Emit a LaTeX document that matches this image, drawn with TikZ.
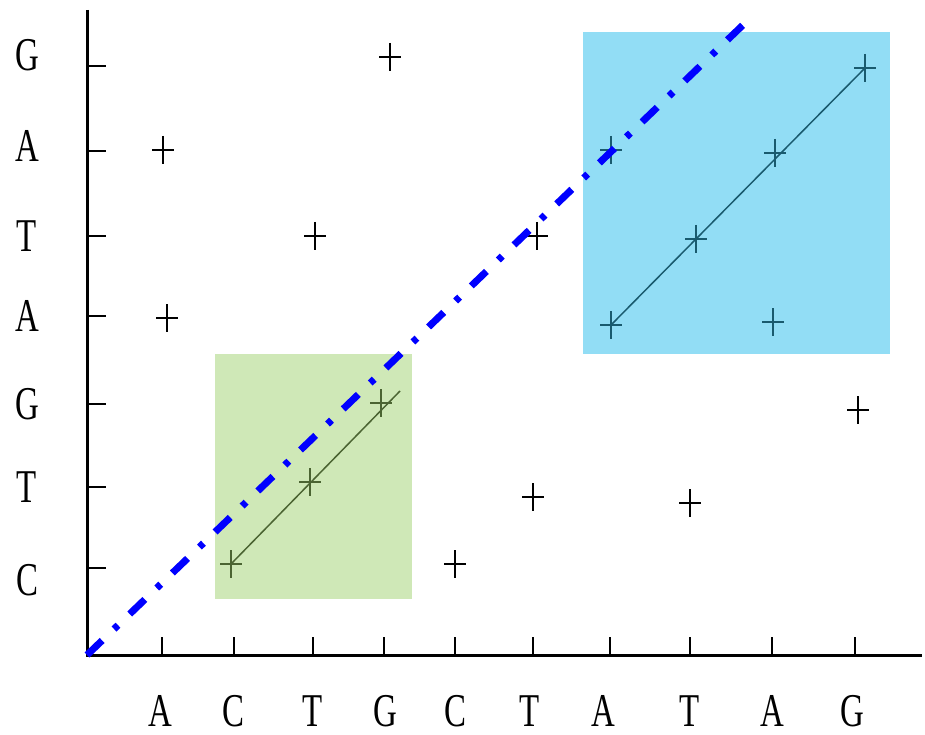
\documentclass[tikz,border=0pt]{standalone}
\usepackage{fontspec}
\newfontfamily\labfont[FakeStretch=0.7]{Liberation Serif}
\usetikzlibrary{calc}
\definecolor{greenbox}{RGB}{207,232,183}
\definecolor{bluebox}{RGB}{146,221,245}
\definecolor{greenline}{RGB}{75,100,50}
\definecolor{blueline}{RGB}{25,90,110}
\begin{document}
\begin{tikzpicture}[x=1pt,y=-1pt,
  lab/.style={font=\labfont\fontsize{47}{47}\selectfont, inner sep=0pt},
  plusmark/.style={minimum width=22pt, minimum height=28pt, inner sep=0pt,
    path picture={\draw[line width=1.5pt,#1]
      (path picture bounding box.north) -- (path picture bounding box.south)
      (path picture bounding box.west) -- (path picture bounding box.east);}},
  plusmark/.default=black,
  axisline/.style={line width=3pt,black},
  tickline/.style={line width=2.6pt,black},
  fitline/.style={line width=1.5pt},
  diagline/.style={line width=7pt,color={rgb,255:red,0;green,0;blue,255},
    dash pattern=on 21pt off 16.5pt on 5.5pt off 16.2pt}
  ]
\useasboundingbox (0,0) rectangle (925,735);
% boxes
\fill[greenbox] (215,354) rectangle (412,599);
\fill[bluebox] (583,32) rectangle (890,354);
% axes
\coordinate (o) at (87,655);
\coordinate (ytop) at (87,10);
\coordinate (xend) at (922,655);
\draw[axisline] (ytop) -- (o) -- (xend);
% y ticks and labels
\foreach \y/\l/\ly [count=\i] in {66/G/55,151/A/146,236/T/236,316/A/316,404/G/404,487/T/487,568/C/580}{
  \coordinate (yt\i) at (87,\y);
  \draw[tickline] (yt\i) -- ++(19,0);
  \node[lab] (yl\i) at (27,\ly) {\l};
}
% x ticks and labels
\foreach \x/\l/\lx [count=\i] in {162/A/160,234/C/233,313/T/313,384/G/385,455/C/455,533/T/530,610/A/603,690/T/690,772/A/772,855/G/852}{
  \coordinate (xt\i) at (\x,655);
  \draw[tickline] (xt\i) -- ++(0,-18);
  \node[lab] (xl\i) at (\lx,711) {\l};
}
% free plus marks
\node[plusmark] (p1) at (163,150) {};
\node[plusmark] (p2) at (167,318) {};
\node[plusmark] (p3) at (390,57) {};
\node[plusmark] (p4) at (315,236) {};
\node[plusmark] (p5) at (537,236) {};
\node[plusmark] (p6) at (533,497) {};
\node[plusmark] (p7) at (690,503) {};
\node[plusmark] (p8) at (455,564) {};
\node[plusmark] (p9) at (858,410) {};
% green region
\node[plusmark=greenline] (g1) at (231,564) {};
\node[plusmark=greenline] (g2) at (310,482) {};
\node[plusmark=greenline] (g3) at (381,403) {};
\coordinate (gend) at (400,391);
\draw[fitline,greenline] (g1.center) -- (gend);
% blue region
\node[plusmark=blueline] (b1) at (611,325) {};
\node[plusmark=blueline] (b2) at (696,239) {};
\node[plusmark=blueline] (b3) at (775,153) {};
\node[plusmark=blueline] (b4) at (865,68) {};
\node[plusmark=blueline] (b5) at (611,150) {};
\node[plusmark=blueline] (b6) at (773,322) {};
\draw[fitline,blueline] (b1.center) -- (b4.center);
% diagonal dash-dot line
\coordinate (dtop) at (744,24);
\draw[diagline] (o) -- (dtop);
\end{tikzpicture}
\end{document}
